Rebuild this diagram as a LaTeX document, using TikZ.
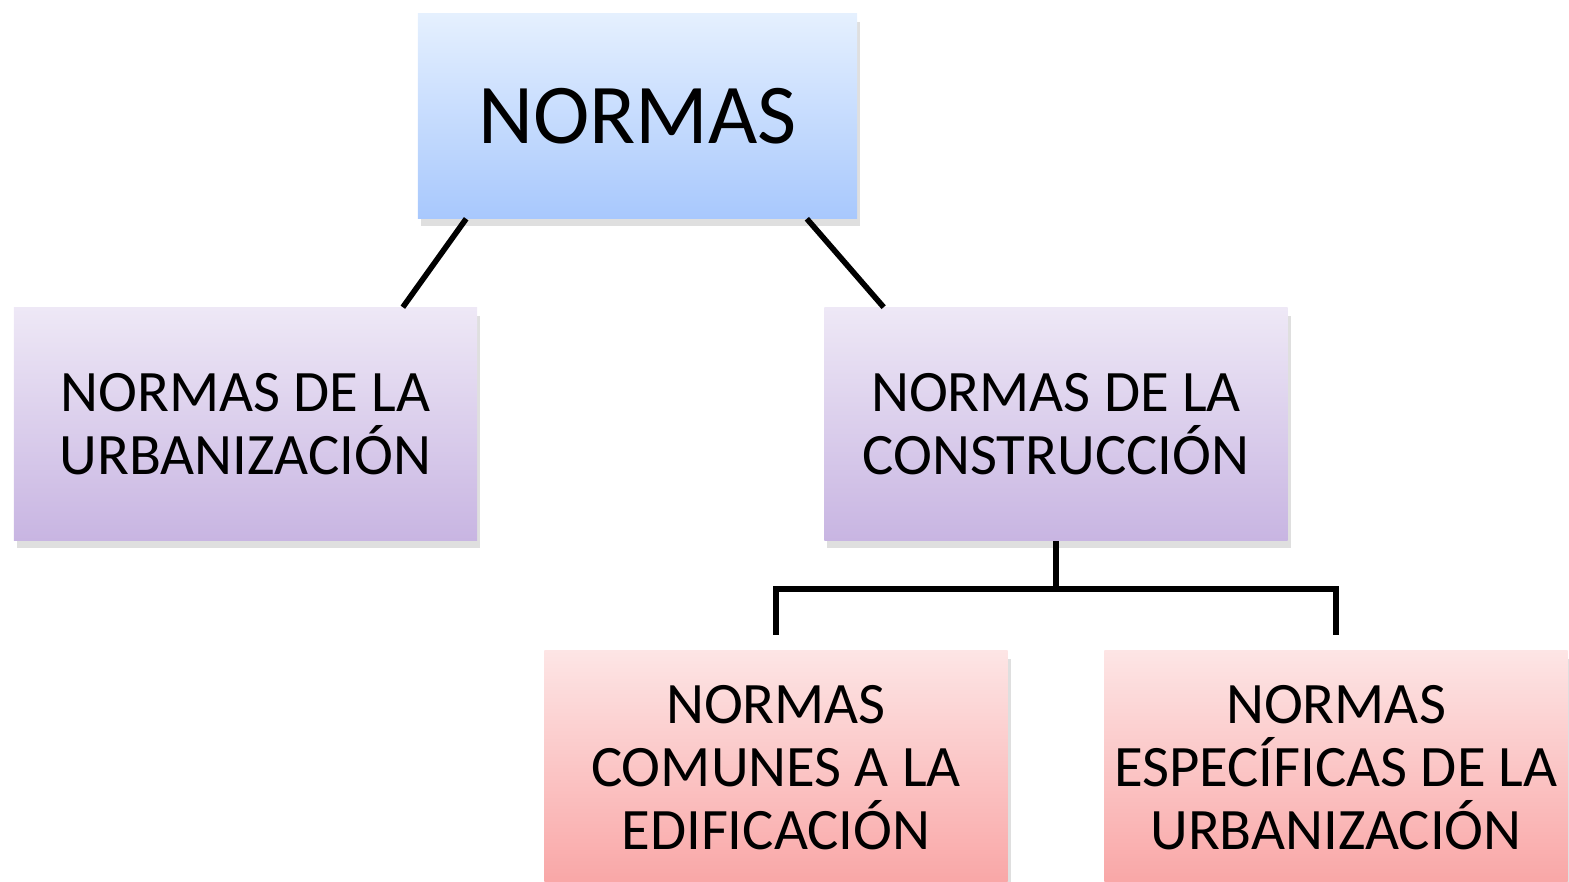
\documentclass[tikz,border=0pt]{standalone}
\usepackage{fontspec}
\setmainfont{Carlito}
\usepackage{tikz}
\usetikzlibrary{calc,shadows}
\definecolor{azularriba}{HTML}{E5F0FE}
\definecolor{azulabajo}{HTML}{A8C8FD}
\definecolor{moradoarriba}{HTML}{EEE8F6}
\definecolor{moradoabajo}{HTML}{C8B5E2}
\definecolor{rosaarriba}{HTML}{FDE5E5}
\definecolor{rosaabajo}{HTML}{F9A6A6}
\tikzset{
	caja/.style={rectangle, draw=none, align=center, inner sep=0pt,
		font=\fontsize{16.7}{17.9}\selectfont,
		drop shadow={shadow xshift=0.3mm, shadow yshift=-0.8mm, opacity=0.25}},
	cajaazul/.style={caja, top color=azularriba, bottom color=azulabajo,
		minimum width=4.39cm, minimum height=2.04cm, font=\fontsize{24.2}{24.2}\selectfont},
	cajamorada/.style={caja, top color=moradoarriba, bottom color=moradoabajo,
		minimum width=4.63cm, minimum height=2.32cm},
	cajarosa/.style={caja, top color=rosaarriba, bottom color=rosaabajo,
		minimum width=4.63cm, minimum height=2.34cm},
	linea/.style={draw=black, line width=1.6pt},
}

\begin{document}
\begin{tikzpicture}[x=0.01cm, y=0.01cm]
\useasboundingbox (0,0) rectangle (1569,882);
\node[cajaazul] (normas) at (637.5,766) {NORMAS};
\node[cajamorada] (urb) at (245.5,458) {NORMAS DE LA\\URBANIZACIÓN};
\node[cajamorada] (cons) at (1056,458) {NORMAS DE LA\\CONSTRUCCIÓN};
\node[cajarosa] (comunes) at (776,114) {NORMAS\\COMUNES A LA\\EDIFICACIÓN};
\node[cajarosa] (especificas) at (1336,114) {NORMAS\\ESPECÍFICAS DE LA\\URBANIZACIÓN};
\draw[linea] ($(normas.south west)+(49,0)$) -- ($(urb.north east)+(-75,0)$);
\draw[linea] ($(normas.south east)+(-51,0)$) -- ($(cons.north west)+(60,0)$);
\draw[linea] (cons.south) -- ++(0,-48) coordinate (horq);
\draw[linea, shorten >=0.15cm] (horq) -| (comunes.north);
\draw[linea, shorten >=0.15cm] (horq) -| (especificas.north);
\end{tikzpicture}
\end{document}
